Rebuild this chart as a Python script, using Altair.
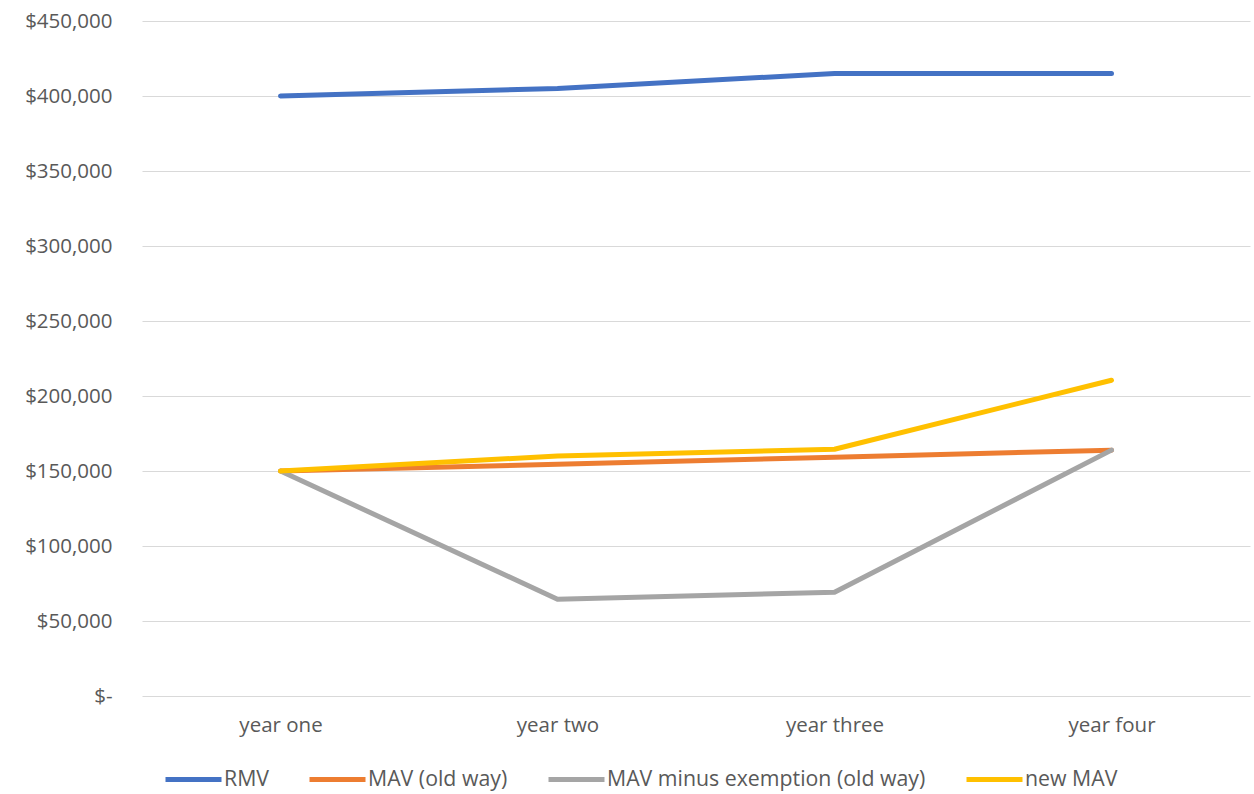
import altair as alt
import pandas as pd

years = ["year one", "year two", "year three", "year four"]
series_names = ["RMV", "MAV (old way)", "MAV minus exemption (old way)", "new MAV"]
rmv = [400000, 405000, 415000, 415000]
mav_old = [150000, 154500, 159135, 163909]
mav_minus = [150000, 64500, 69135, 163909]
new_mav = [150000, 160000, 164500, 210500]
colors = ["#4472C4", "#ED7D31", "#A5A5A5", "#FFC000"]

rows = []
for name, vals in zip(series_names, [rmv, mav_old, mav_minus, new_mav]):
    for i, (y, v) in enumerate(zip(years, vals)):
        rows.append({"year": y, "value": v, "series": name, "order": i})
df = pd.DataFrame(rows)

FONT = "Open Sans"
FS = 20.5

chart = alt.Chart(df).mark_line(strokeWidth=5, strokeCap="round", strokeJoin="round").encode(
    x=alt.X("year:N", sort=years, title=None,
            scale=alt.Scale(paddingInner=0, paddingOuter=0.5),
            axis=alt.Axis(labelAngle=0, domain=False, ticks=False, grid=False,
                          labelPadding=19, labelFontSize=FS, labelColor="#595959", labelFont=FONT)),
    y=alt.Y("value:Q", title=None,
            scale=alt.Scale(domain=[0, 450000], nice=False),
            axis=alt.Axis(values=list(range(0, 450001, 50000)),
                          labelExpr="datum.value == 0 ? '$-' : '$' + format(datum.value, ',')",
                          domain=False, ticks=False, gridColor="#d9d9d9", gridWidth=1.2,
                          labelPadding=30, labelFontSize=FS, labelColor="#595959", labelFont=FONT)),
    color=alt.Color("series:N", sort=series_names,
                    scale=alt.Scale(domain=series_names, range=colors),
                    legend=alt.Legend(title=None, orient="none", direction="horizontal",
                                      legendX=21, legendY=728,
                                      symbolType="stroke", symbolSize=3136, symbolStrokeWidth=5,
                                      labelOffset=0, columnPadding=30, labelLimit=600,
                                      labelFontSize=21.3, labelColor="#595959", labelFont=FONT)),
    detail="series:N",
    order="order:Q",
).properties(
    width=1108, height=675,
    autosize=alt.AutoSizeParams(type="none"),
    padding={"left": 142, "top": 21, "right": 4, "bottom": 98},
).configure_view(stroke=None)

chart.save("out.html", embed_options={"renderer": "svg", "actions": False})
